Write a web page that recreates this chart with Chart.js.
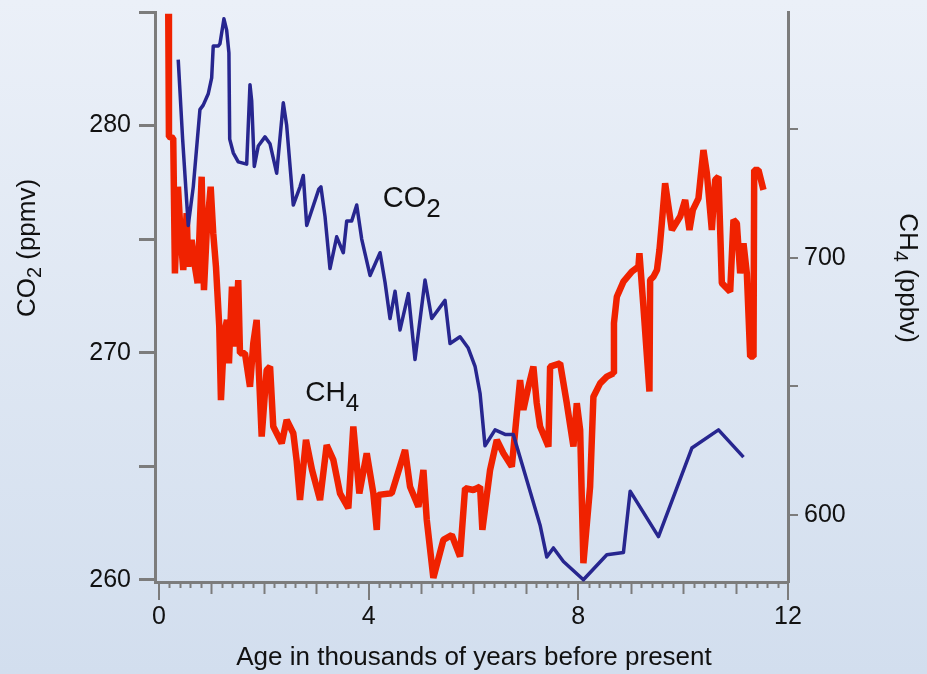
<!DOCTYPE html>
<html>
<head>
<meta charset="utf-8">
<script src="https://cdn.jsdelivr.net/npm/chart.js@4/dist/chart.umd.min.js"></script>
<style>
html,body{margin:0;padding:0;background:#dfe8f4;}
#wrap{width:927px;height:674px;position:relative;}
canvas{display:block;}
</style>
</head>
<body>
<div id="wrap"><canvas id="c" width="927" height="674"></canvas></div>
<script>
// ---- Data ----
// CO2 (left axis, ppmv) vs age (thousands of years before present)
const CO2_AGE = [0.368,0.452,0.559,0.655,0.782,0.845,0.941,1.006,1.036,1.132,1.164,1.240,1.292,1.335,1.350,1.418,1.513,1.674,1.737,1.769,1.819,1.895,2.023,2.118,2.246,2.372,2.437,2.563,2.691,2.754,2.819,3.050,3.090,3.168,3.263,3.391,3.517,3.582,3.677,3.773,3.868,4.027,4.218,4.313,4.408,4.504,4.599,4.758,4.885,5.076,5.204,5.458,5.553,5.744,5.900,6.030,6.126,6.220,6.412,6.603,6.760,6.952,7.271,7.399,7.525,7.716,8.097,8.544,8.861,8.989,9.529,10.166,10.674,11.151];
const CO2_PPMV = [282.9,279.4,275.6,277.3,280.7,280.9,281.4,282.1,283.5,283.5,283.6,284.7,284.2,283.2,279.4,278.8,278.4,278.3,281.8,281.1,278.2,279.1,279.5,279.2,277.9,281.0,280.0,276.5,277.3,277.8,275.6,277.2,277.3,276.0,273.7,275.1,274.4,275.8,275.8,276.5,275.0,273.4,274.4,273.1,271.5,272.7,271.0,272.6,269.7,273.2,271.5,272.3,270.4,270.7,270.2,269.4,268.2,265.9,266.6,266.4,266.4,264.9,262.4,261.0,261.4,260.8,260.0,261.1,261.2,263.9,261.9,265.8,266.6,265.4];
// CH4 (right axis, ppbv) vs age
const CH4_AGE = [0.178,0.191,0.273,0.305,0.363,0.420,0.464,0.529,0.559,0.624,0.687,0.738,0.815,0.859,0.910,0.987,1.036,1.088,1.151,1.183,1.246,1.298,1.336,1.393,1.450,1.513,1.546,1.641,1.737,1.800,1.864,1.960,2.055,2.120,2.181,2.342,2.437,2.563,2.628,2.691,2.805,2.920,3.073,3.200,3.327,3.454,3.613,3.708,3.823,3.964,4.090,4.155,4.186,4.440,4.695,4.790,4.950,5.045,5.109,5.235,5.426,5.586,5.744,5.840,5.998,6.126,6.170,6.317,6.445,6.571,6.731,6.889,6.952,7.048,7.143,7.207,7.271,7.430,7.462,7.653,7.780,7.907,7.971,8.035,8.097,8.225,8.288,8.416,8.544,8.670,8.680,8.735,8.861,9.021,9.147,9.166,9.242,9.357,9.370,9.433,9.500,9.548,9.593,9.656,9.720,9.785,9.943,10.038,10.120,10.185,10.292,10.387,10.452,10.547,10.611,10.674,10.738,10.897,10.960,11.024,11.088,11.151,11.215,11.279,11.342,11.355,11.437,11.532];
const CH4_PPBV = [795,747.2,746.6,694.0,727.7,707.0,695.3,717.4,696.6,707.0,696.6,690.2,731.6,687.5,709.6,727.7,709.6,696.6,673.3,644.7,670.7,675.9,659.0,688.8,665.5,691.4,662.9,662.9,649.9,666.8,675.9,630.5,656.4,657.7,634.4,627.9,637.0,631.8,620.9,605.8,629.2,617.5,605.8,627.2,621.4,608.4,602.6,634.4,608.4,624.0,608.4,594.2,607.8,608.4,625.3,611.0,603.2,617.5,598.1,575.5,590.3,592.2,583.8,610.4,609.7,611.0,594.2,617.5,629.2,624.0,618.8,652.5,640.9,649.9,657.7,643.5,634.4,626.6,657.7,659.0,643.5,626.6,643.5,633.1,581.2,611.0,646.0,651.2,653.8,655.1,674.6,684.9,690.8,694.7,696.6,701.8,681.0,648.0,691.4,692.7,695.3,703.1,713.5,729.1,720.0,710.9,716.1,722.6,710.9,718.7,723.2,742.0,733.0,710.9,730.4,731.6,690.2,686.9,714.8,713.5,694.0,705.7,694.0,661.6,661.6,734.2,734.2,726.5];

// ---- Tick values ----
const AGE_TICKS = [0, 4, 8, 12];
const CO2_TICKS = [260, 265, 270, 275, 280, 285];
const CO2_LABELED = [260, 270, 280];
const CH4_TICKS = [600, 650, 700, 750];
const CH4_LABELED = [600, 700];

// ---- Texts ----
const X_TITLE = 'Age in thousands of years before present';
const CO2_TITLE = [['CO', 0], ['2', 1], [' (ppmv)', 0]];
const CH4_TITLE = [['CH', 0], ['4', 1], [' (ppbv)', 0]];
const CO2_LABEL = [['CO', 0], ['2', 1]];
const CH4_LABEL = [['CH', 0], ['4', 1]];
// label anchor positions in data units
const CO2_LABEL_AT = {x: 4.27, y: 276.4};
const CH4_LABEL_AT = {x: 2.79, y: 644.5};

const FONT = '"Liberation Sans", Arial, Helvetica, sans-serif';
const AXIS_GRAY = '#7c7c7c';
const TEXT = '#111111';

function pairs(xs, ys) { return xs.map((x, i) => ({x: x, y: ys[i]})); }

function richWidth(ctx, parts, main, sub) {
  let w = 0;
  parts.forEach(p => { ctx.font = (p[1] ? sub : main) + 'px ' + FONT; w += ctx.measureText(p[0]).width; });
  return w;
}
function drawRich(ctx, parts, x, y, rot, main, sub, dy, center) {
  ctx.save();
  ctx.translate(x, y);
  ctx.rotate(rot);
  ctx.fillStyle = TEXT;
  ctx.textBaseline = 'alphabetic';
  ctx.textAlign = 'left';
  let cx = center ? -richWidth(ctx, parts, main, sub) / 2 : 0;
  parts.forEach(p => {
    ctx.font = (p[1] ? sub : main) + 'px ' + FONT;
    ctx.fillText(p[0], cx, p[1] ? dy : 0);
    cx += ctx.measureText(p[0]).width;
  });
  ctx.restore();
}

const decor = {
  id: 'decor',
  beforeDraw(chart) {
    const ctx = chart.ctx;
    const g = ctx.createLinearGradient(0, 0, 0, chart.height);
    g.addColorStop(0, '#ebf0f8');
    g.addColorStop(1, '#d2deee');
    ctx.save();
    ctx.fillStyle = g;
    ctx.fillRect(0, 0, chart.width, chart.height);
    ctx.restore();
  },
  afterDraw(chart) {
    const ctx = chart.ctx;
    const xs = chart.scales.x;
    const ys = chart.scales.y;
    const y2 = chart.scales.y2;
    const bottom = chart.chartArea.bottom;
    // minor ticks on age axis
    ctx.save();
    ctx.strokeStyle = AXIS_GRAY;
    ctx.lineWidth = 2;
    for (let i = 0; i <= 60; i++) {
      const v = i / 5;
      if (AGE_TICKS.includes(v)) continue;
      const len = (i % 5 === 0) ? 12 : 6;
      const px = Math.round(xs.getPixelForValue(v)) + 0.5;
      ctx.beginPath();
      ctx.moveTo(px, bottom);
      ctx.lineTo(px, bottom + len);
      ctx.stroke();
    }
    ctx.restore();
    // series labels
    drawRich(ctx, CO2_LABEL, xs.getPixelForValue(CO2_LABEL_AT.x), ys.getPixelForValue(CO2_LABEL_AT.y), 0, 29, 26, 10, false);
    drawRich(ctx, CH4_LABEL, xs.getPixelForValue(CH4_LABEL_AT.x), y2.getPixelForValue(CH4_LABEL_AT.y), 0, 28, 24, 10, false);
    // axis titles
    drawRich(ctx, CO2_TITLE, 35, 248, -Math.PI / 2, 26, 20, 6, true);
    drawRich(ctx, CH4_TITLE, 900, 278, Math.PI / 2, 26, 20, 6, true);
    ctx.save();
    ctx.fillStyle = TEXT;
    ctx.font = '26px ' + FONT;
    ctx.textAlign = 'center';
    ctx.textBaseline = 'alphabetic';
    ctx.fillText(X_TITLE, 474, 665);
    ctx.restore();
  }
};

const tickFont = {family: FONT, size: 25};

new Chart(document.getElementById('c'), {
  type: 'line',
  data: {
    datasets: [
      {
        label: 'CO2',
        data: pairs(CO2_AGE, CO2_PPMV),
        yAxisID: 'y',
        borderColor: '#27268f',
        borderWidth: 3.5,
        pointRadius: 0,
        tension: 0,
        borderJoinStyle: 'round',
        fill: false
      },
      {
        label: 'CH4',
        data: pairs(CH4_AGE, CH4_PPBV),
        yAxisID: 'y2',
        borderColor: '#f02200',
        borderWidth: 6.5,
        pointRadius: 0,
        tension: 0,
        borderJoinStyle: 'bevel',
        fill: false
      }
    ]
  },
  options: {
    responsive: false,
    animation: false,
    devicePixelRatio: 1,
    layout: {padding: {top: 12, left: 0, right: 0, bottom: 0}},
    plugins: {legend: {display: false}, tooltip: {enabled: false}, title: {display: false}},
    scales: {
      x: {
        type: 'linear',
        position: 'bottom',
        min: -0.075,
        max: 12,
        afterBuildTicks: s => { s.ticks = AGE_TICKS.map(v => ({value: v})); },
        afterFit: s => { s.height = 92; s.paddingLeft = 0; s.paddingRight = 0; },
        grid: {drawOnChartArea: false, drawTicks: true, tickLength: 18, color: AXIS_GRAY, lineWidth: 2},
        border: {display: true, color: AXIS_GRAY, width: 3},
        ticks: {font: tickFont, color: TEXT, padding: 2, maxRotation: 0, autoSkip: false}
      },
      y: {
        type: 'linear',
        position: 'left',
        min: 259.9,
        max: 285,
        afterBuildTicks: s => { s.ticks = CO2_TICKS.map(v => ({value: v})); },
        afterFit: s => { s.width = 155; s.paddingTop = 0; s.paddingBottom = 0; },
        grid: {drawOnChartArea: false, drawTicks: true, tickLength: 16, color: AXIS_GRAY, lineWidth: 3},
        border: {display: true, color: AXIS_GRAY, width: 3},
        ticks: {font: tickFont, color: TEXT, padding: 8, autoSkip: false,
          callback: v => CO2_LABELED.includes(v) ? String(v) : ''}
      },
      y2: {
        type: 'linear',
        position: 'right',
        min: 573.9,
        max: 795.7,
        afterBuildTicks: s => { s.ticks = CH4_TICKS.map(v => ({value: v})); },
        afterFit: s => { s.width = 139; s.paddingTop = 0; s.paddingBottom = 0; },
        grid: {drawOnChartArea: false, drawTicks: true, tickLength: 10, color: AXIS_GRAY, lineWidth: 2},
        border: {display: true, color: AXIS_GRAY, width: 3},
        ticks: {font: tickFont, color: TEXT, padding: 6, autoSkip: false,
          callback: v => CH4_LABELED.includes(v) ? String(v) : ''}
      }
    }
  },
  plugins: [decor]
});
</script>
</body>
</html>
